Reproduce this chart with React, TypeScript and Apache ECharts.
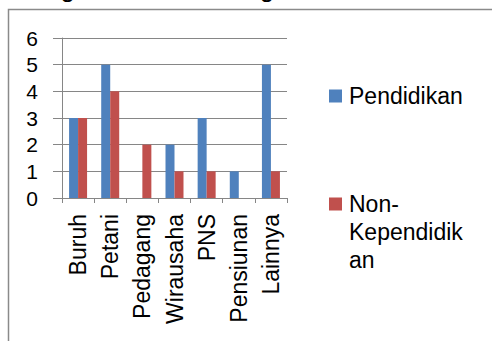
import React, { useEffect, useRef } from "react";
import * as echarts from "echarts";

// Occupation categories along the x axis
const categories = ["Buruh", "Petani", "Pedagang", "Wirausaha", "PNS", "Pensiunan", "Lainnya"];
// Counts per group
const pendidikan = [3, 5, 0, 2, 3, 1, 5];
const nonKependidikan = [3, 4, 2, 1, 1, 0, 1];
const seriesNames = ["Pendidikan", "Non-Kependidikan"];
const yTicks = { min: 0, max: 6, interval: 1 };
const headingText = "dengan latar belakang";

const FONT = "Liberation Sans";
const GRAY = "#868686";

// Legend square drawn at the top of a tall, otherwise empty box so that it
// lines up with the first line of a wrapped legend label.
const TOP_SQUARE_ICON = "path://M0,0h13v13h-13zM0,69h0.01";

export default function App() {
  const ref = useRef<HTMLDivElement>(null);

  useEffect(() => {
    if (!ref.current) return;
    const chart = echarts.init(ref.current, undefined, { renderer: "svg" });
    chart.setOption({
      animation: false,
      backgroundColor: "#ffffff",
      graphic: [
        {
          type: "text",
          left: 17,
          top: -25,
          style: { text: headingText, fontFamily: FONT, fontSize: 26, fill: "#000" },
          silent: true,
        },
        {
          type: "polyline",
          shape: { points: [[8.5, 345], [8.5, 9.5], [500, 9.5]] },
          style: { stroke: "#8a8a8a", lineWidth: 1.5, fill: "none" },
          silent: true,
        },
      ],
      legend: [
        {
          data: [seriesNames[0]],
          left: 329,
          top: 82,
          padding: 0,
          orient: "vertical",
          icon: "rect",
          itemWidth: 13,
          itemHeight: 13,
          textStyle: { fontFamily: FONT, fontSize: 23, color: "#000", lineHeight: 28, padding: [0, 0, 0, 2] },
        },
        {
          data: [seriesNames[1]],
          left: 329,
          top: 190,
          padding: 0,
          orient: "vertical",
          icon: TOP_SQUARE_ICON,
          itemWidth: 13,
          itemHeight: 69,
          itemStyle: { borderWidth: 0 },
          formatter: () => "Non-\nKependidik\nan",
          textStyle: { fontFamily: FONT, fontSize: 23, color: "#000", lineHeight: 28, padding: [0, 0, 0, 2] },
        },
      ],
      grid: { left: 62, right: 205, top: 38, bottom: 143, containLabel: false },
      xAxis: {
        type: "category",
        data: categories,
        boundaryGap: true,
        axisLine: { lineStyle: { color: GRAY, width: 1 } },
        axisTick: { show: true, length: 5, interval: 0, lineStyle: { color: GRAY } },
        axisLabel: {
          rotate: 90,
          interval: 0,
          margin: 16,
          fontFamily: FONT,
          fontSize: 23,
          color: "#000",
        },
      },
      yAxis: {
        type: "value",
        min: yTicks.min,
        max: yTicks.max,
        interval: yTicks.interval,
        axisLine: { show: true, lineStyle: { color: GRAY, width: 1 } },
        axisTick: { show: true, length: 9, lineStyle: { color: GRAY } },
        splitLine: { show: true, lineStyle: { color: GRAY, width: 1 } },
        axisLabel: { margin: 24, fontFamily: FONT, fontSize: 21, color: "#000" },
      },
      series: [
        {
          name: seriesNames[0],
          type: "bar",
          data: pendidikan,
          itemStyle: { color: "#4F81BD" },
          barGap: "0%",
          barCategoryGap: "44%",
        },
        {
          name: seriesNames[1],
          type: "bar",
          data: nonKependidikan,
          itemStyle: { color: "#C0504D" },
          barGap: "0%",
          barCategoryGap: "44%",
        },
      ],
    });
    return () => chart.dispose();
  }, []);

  return (
    <div
      ref={ref}
      style={{ position: "fixed", left: 0, top: 0, width: 492, height: 341 }}
    />
  );
}
